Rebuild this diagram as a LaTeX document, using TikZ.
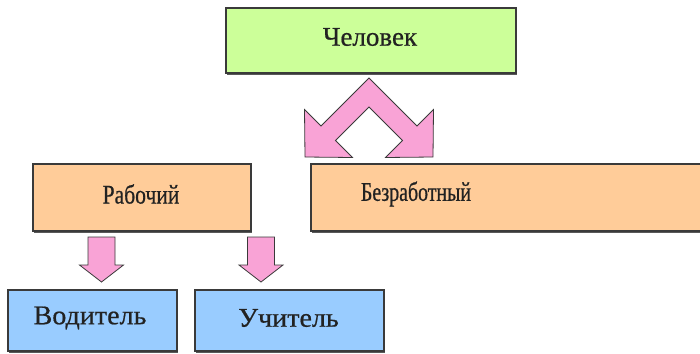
\documentclass[tikz,border=0pt]{standalone}
\usepackage{fontspec}
\setmainfont{Liberation Serif}
\newfontfamily\boxfont[FakeBold=0.6]{Liberation Serif}
\newfontfamily\rabfont[FakeStretch=0.80,FakeBold=0.6]{Liberation Serif}
\newfontfamily\bezfont[FakeStretch=0.735,FakeBold=0.6]{Liberation Serif}
\newfontfamily\lowfont[FakeStretch=1.04,FakeBold=0.6]{Liberation Serif}
\usetikzlibrary{shadows}
\definecolor{cgreen}{HTML}{CCFF99}
\definecolor{corange}{HTML}{FFCC99}
\definecolor{cblue}{HTML}{99CCFF}
\definecolor{cpink}{HTML}{F9A3D6}
\definecolor{cline}{HTML}{3A3A3A}
\definecolor{ctext}{HTML}{222222}
\begin{document}
\begin{tikzpicture}[x=1pt,y=-1pt,
  box/.style={draw=cline, line width=1.1pt, inner sep=0pt, text=ctext,
    drop shadow={shadow xshift=0.8pt, shadow yshift=-1.6pt, fill=black!65, opacity=1}},
  blockarrow/.style={fill=cpink, draw=cline, line width=0.8pt, line join=miter},
  lbl/.style={text=ctext, inner sep=0pt}]
\useasboundingbox (0,0) rectangle (700,353);
\clip (0,0) rectangle (700,353);
\fill[white] (0,0) rectangle (700,353);

% boxes
\node[box, fill=cgreen, minimum width=290pt, minimum height=65pt] (man) at (371,40.5) {};
\node[lbl] (mant) at (370,37) {\boxfont\fontsize{27}{30}\selectfont Человек};
\node[box, fill=corange, minimum width=218pt, minimum height=67pt] (rab) at (142,197.5) {};
\node[lbl] (rabt) at (141,194) {\rabfont\fontsize{27}{30}\selectfont Рабочий};
\node[box, fill=corange, minimum width=400pt, minimum height=67pt] (bez) at (511,197.5) {};
\node[lbl] (bezt) at (416,194) {\bezfont\fontsize{27}{30}\selectfont Безработный};
\node[box, fill=cblue, minimum width=169pt, minimum height=61pt] (vod) at (92.5,320.5) {};
\node[lbl] (vodt) at (90,318) {\lowfont\fontsize{27}{30}\selectfont Водитель};
\node[box, fill=cblue, minimum width=189pt, minimum height=61pt] (uch) at (289.5,320.5) {};
\node[lbl] (ucht) at (288.5,318) {\lowfont\fontsize{27}{30}\selectfont Учитель};

% big double arrow from man
\draw[blockarrow] (369,78) -- (417,126) -- (433.5,109.5) -- (433,157) -- (385.5,157.5)
  -- (402.5,140.5) -- (369,107) -- (335.5,140.5) -- (352.5,157.5) -- (305,157)
  -- (304.5,109.5) -- (321,126) -- cycle;

% small down arrows
\foreach \cx in {101.5,261} {
  \draw[blockarrow] (\cx-13.5,237) -- (\cx+13.5,237) -- (\cx+13.5,265) -- (\cx+22,265)
    -- (\cx,282) -- (\cx-22,265) -- (\cx-13.5,265) -- cycle;
}
\end{tikzpicture}
\end{document}
